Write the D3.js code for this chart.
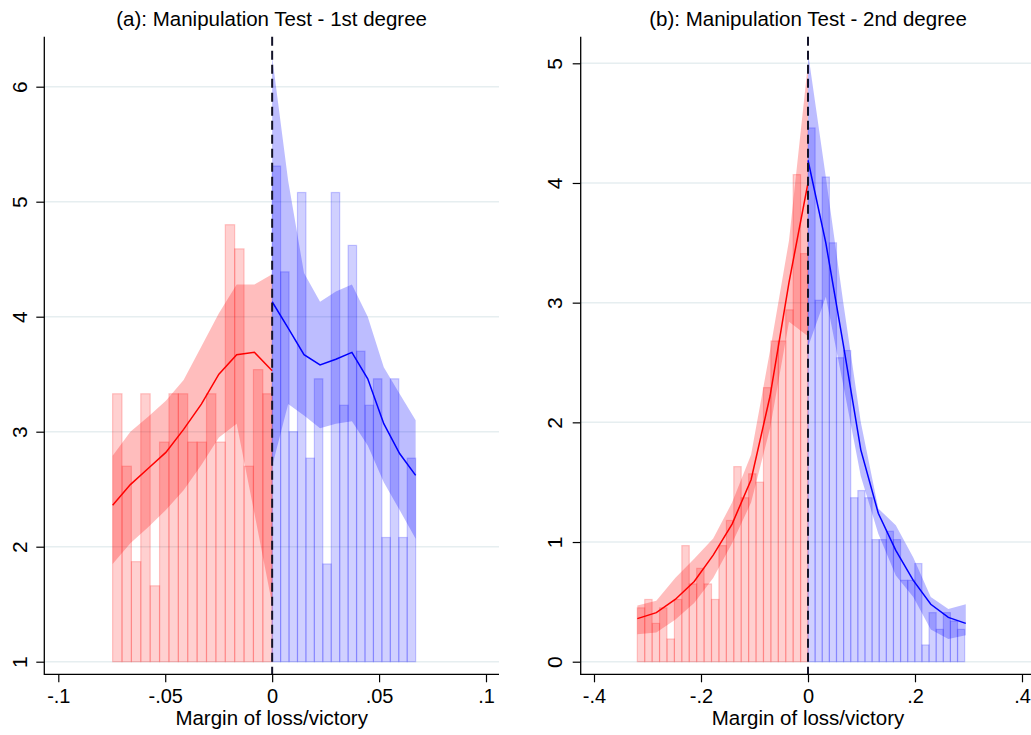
<!DOCTYPE html>
<html>
<head>
<meta charset="utf-8">
<script src="https://cdn.jsdelivr.net/npm/d3@7"></script>
<style>
  body { margin: 0; background: #fff; }
  svg { display: block; font-family: "Liberation Sans", Arial, sans-serif; }
</style>
</head>
<body>
<svg id="chart" width="1031" height="735"></svg>
<script>
// ---- panel (a): 1st degree ----
const aTitle = "(a): Manipulation Test - 1st degree";
const aYTicks = [1, 2, 3, 4, 5, 6];
const aXTicks = [-0.1, -0.05, 0, 0.05, 0.1];
const aXTickLabels = ["-.1", "-.05", "0", ".05", ".1"];

// histogram bins (start, width) and heights
const aLeftBinStart = -0.0746, aLeftBinWidth = 0.00439;
const aLeftHeights = [3.33, 2.70, 1.87, 3.33, 1.66, 2.91, 3.33, 3.33, 2.91, 2.91, 3.33, 2.91, 4.80, 4.59, 2.70, 3.54, 3.33];
const aRightBinStart = 0, aRightBinWidth = 0.003947;
const aRightHeights = [5.31, 4.39, 3.00, 5.08, 2.77, 3.46, 1.85, 5.08, 3.23, 4.62, 3.70, 3.23, 3.46, 2.08, 3.46, 2.08, 2.77];

// fitted density with confidence band
const aLeftFitX = [-0.0746, -0.0663, -0.0580, -0.0497, -0.0414, -0.0331, -0.0249, -0.0166, -0.0083, 0];
const aLeftFit = [2.36, 2.54, 2.68, 2.82, 3.02, 3.24, 3.50, 3.67, 3.69, 3.53];
const aLeftHi = [2.79, 3.00, 3.13, 3.27, 3.45, 3.74, 4.03, 4.28, 4.28, 4.37];
const aLeftLo = [1.85, 2.03, 2.17, 2.32, 2.49, 2.71, 2.95, 3.07, 2.29, 1.50];
const aRightFitX = [0, 0.0075, 0.0149, 0.0224, 0.0298, 0.0373, 0.0447, 0.0522, 0.0596, 0.0671];
const aRightFit = [4.13, 3.90, 3.67, 3.58, 3.63, 3.69, 3.46, 3.07, 2.81, 2.62];
const aRightHi = [6.26, 5.18, 4.38, 4.13, 4.22, 4.28, 4.00, 3.56, 3.33, 3.10];
const aRightLo = [2.70, 3.24, 3.14, 3.03, 3.07, 3.09, 2.88, 2.56, 2.32, 2.07];

// ---- panel (b): 2nd degree ----
const bTitle = "(b): Manipulation Test - 2nd degree";
const bYTicks = [0, 1, 2, 3, 4, 5];
const bXTicks = [-0.4, -0.2, 0, 0.2, 0.4];
const bXTickLabels = ["-.4", "-.2", "0", ".2", ".4"];

const bLeftBinStart = -0.3191, bLeftBinWidth = 0.013874;
const bLeftHeights = [0.45, 0.52, 0.32, 0.45, 0.19, 0.52, 0.97, 0.65, 0.78, 0.65, 0.52, 0.97, 1.18, 1.63, 1.37, 1.57, 1.50, 2.29, 2.68, 2.68, 2.94, 4.07, 3.41];
const bRightBinStart = 0, bRightBinWidth = 0.01331;
const bRightHeights = [4.46, 3.02, 4.05, 3.50, 2.54, 2.60, 1.37, 1.43, 1.37, 1.02, 1.02, 1.09, 1.02, 0.68, 0.68, 0.82, 0.14, 0.41, 0.27, 0.41, 0.34, 0.27];

const bLeftFitX = [-0.3190, -0.2835, -0.2482, -0.2127, -0.1772, -0.1419, -0.1064, -0.0709, -0.0355, 0];
const bLeftFit = [0.36, 0.41, 0.52, 0.67, 0.89, 1.15, 1.52, 2.22, 3.17, 4.00];
const bLeftHi = [0.47, 0.51, 0.70, 0.86, 1.03, 1.33, 1.73, 2.60, 3.52, 5.00];
const bLeftLo = [0.23, 0.245, 0.35, 0.49, 0.70, 0.99, 1.33, 1.95, 2.84, 2.72];
const bRightFitX = [0, 0.0333, 0.0660, 0.0987, 0.1314, 0.1641, 0.1968, 0.2295, 0.2623, 0.2949];
const bRightFit = [4.19, 3.50, 2.65, 1.77, 1.24, 0.93, 0.68, 0.48, 0.37, 0.32];
const bRightHi = [5.09, 4.05, 3.00, 2.00, 1.28, 1.14, 0.87, 0.54, 0.44, 0.48];
const bRightLo = [2.63, 3.05, 2.31, 1.55, 1.07, 0.72, 0.54, 0.27, 0.19, 0.22];

const xTitle = "Margin of loss/victory";
const leftColor = "#ff0000";
const rightColor = "#0000ff";

const svg = d3.select("#chart");

function drawPanel(p) {
  const g = svg.append("g");
  const box = p.box;

  const x = d3.scaleLinear().domain([p.xTicks[0], p.xTicks[p.xTicks.length - 1]]).range(p.xRange);
  const y = d3.scaleLinear().domain([p.yTicks[0], p.yTicks[p.yTicks.length - 1]]).range(p.yRange);
  const base = p.yTicks[0];

  // gridlines
  g.append("g").selectAll("line")
    .data(p.yTicks)
    .join("line")
    .attr("x1", box.left).attr("x2", box.right)
    .attr("y1", d => y(d)).attr("y2", d => y(d))
    .attr("stroke", "#e6eef0")
    .attr("stroke-width", 1.5);

  // histogram bars
  p.sides.forEach(s => {
    g.append("g").selectAll("rect")
      .data(s.heights)
      .join("rect")
      .attr("x", (d, i) => x(s.binStart + i * s.binWidth))
      .attr("width", (d, i) => x(s.binStart + (i + 1) * s.binWidth) - x(s.binStart + i * s.binWidth))
      .attr("y", d => y(d))
      .attr("height", d => y(base) - y(d))
      .attr("fill", s.color).attr("fill-opacity", 0.185)
      .attr("stroke", s.color).attr("stroke-opacity", 0.2)
      .attr("stroke-width", 1.2);
  });

  // confidence bands
  p.sides.forEach(s => {
    const pts = s.fitX.map((v, i) => ({ x: v, lo: s.lo[i], hi: s.hi[i] }));
    const area = d3.area()
      .x(d => x(d.x))
      .y0(d => y(d.lo))
      .y1(d => y(d.hi));
    g.append("path")
      .attr("d", area(pts))
      .attr("fill", s.color)
      .attr("fill-opacity", 0.26);
  });

  // fitted lines
  p.sides.forEach(s => {
    const pts = s.fitX.map((v, i) => ({ x: v, est: s.fit[i] }));
    const line = d3.line().x(d => x(d.x)).y(d => y(d.est));
    g.append("path")
      .attr("d", line(pts))
      .attr("fill", "none")
      .attr("stroke", s.color)
      .attr("stroke-width", 1.5);
  });

  // cutoff
  g.append("line")
    .attr("x1", x(0)).attr("x2", x(0))
    .attr("y1", box.top).attr("y2", box.bottom)
    .attr("stroke", "#14142a")
    .attr("stroke-width", 2)
    .attr("stroke-dasharray", "9,5");

  // axes
  const yAxis = d3.axisLeft(y).tickValues(p.yTicks).tickFormat(d3.format("d"))
    .tickSize(8).tickSizeOuter(0);
  const yG = g.append("g")
    .attr("transform", `translate(${box.left},0)`)
    .call(yAxis);
  yG.select(".domain").remove();
  yG.selectAll(".tick line").attr("stroke", "#000").attr("stroke-width", 1.2);
  yG.selectAll(".tick text")
    .attr("transform", "rotate(-90)")
    .attr("x", 0)
    .attr("y", -p.yLabelOffset)
    .attr("dy", 0)
    .attr("text-anchor", "middle")
    .attr("fill", "#000")
    .style("font-size", "21px");

  const xAxis = d3.axisBottom(x).tickValues(p.xTicks)
    .tickFormat((d, i) => p.xTickLabels[i]).tickSize(8).tickSizeOuter(0);
  const xG = g.append("g")
    .attr("transform", `translate(0,${box.bottom})`)
    .call(xAxis);
  xG.select(".domain").remove();
  xG.selectAll(".tick line").attr("stroke", "#000").attr("stroke-width", 1.2);
  xG.selectAll(".tick text")
    .attr("y", 28.4)
    .attr("dy", 0)
    .attr("fill", "#000")
    .style("font-size", "20px");

  g.append("line")
    .attr("x1", box.left).attr("x2", box.left)
    .attr("y1", box.top).attr("y2", box.bottom + 0.6)
    .attr("stroke", "#000").attr("stroke-width", 1.3);
  g.append("line")
    .attr("x1", box.left).attr("x2", box.right)
    .attr("y1", box.bottom).attr("y2", box.bottom)
    .attr("stroke", "#000").attr("stroke-width", 1.3);

  const cx = (box.left + box.right) / 2;
  g.append("text")
    .attr("x", cx).attr("y", 725)
    .attr("text-anchor", "middle")
    .style("font-size", "20.5px")
    .text(xTitle);

  g.append("text")
    .attr("x", cx).attr("y", 26)
    .attr("text-anchor", "middle")
    .style("font-size", "20.5px")
    .text(p.title);
}

drawPanel({
  title: aTitle,
  box: { left: 44.3, right: 499, top: 36.7, bottom: 674.3 },
  xRange: [58.3, 486],
  yRange: [661.7, 86.7],
  yLabelOffset: 17,
  xTicks: aXTicks, xTickLabels: aXTickLabels, yTicks: aYTicks,
  sides: [
    { color: leftColor, binStart: aLeftBinStart, binWidth: aLeftBinWidth, heights: aLeftHeights,
      fitX: aLeftFitX, fit: aLeftFit, lo: aLeftLo, hi: aLeftHi },
    { color: rightColor, binStart: aRightBinStart, binWidth: aRightBinWidth, heights: aRightHeights,
      fitX: aRightFitX, fit: aRightFit, lo: aRightLo, hi: aRightHi }
  ]
});

drawPanel({
  title: bTitle,
  box: { left: 580.7, right: 1035.3, top: 36.7, bottom: 674.3 },
  xRange: [594, 1022],
  yRange: [661.7, 63.3],
  yLabelOffset: 18.5,
  xTicks: bXTicks, xTickLabels: bXTickLabels, yTicks: bYTicks,
  sides: [
    { color: leftColor, binStart: bLeftBinStart, binWidth: bLeftBinWidth, heights: bLeftHeights,
      fitX: bLeftFitX, fit: bLeftFit, lo: bLeftLo, hi: bLeftHi },
    { color: rightColor, binStart: bRightBinStart, binWidth: bRightBinWidth, heights: bRightHeights,
      fitX: bRightFitX, fit: bRightFit, lo: bRightLo, hi: bRightHi }
  ]
});
</script>
</body>
</html>
